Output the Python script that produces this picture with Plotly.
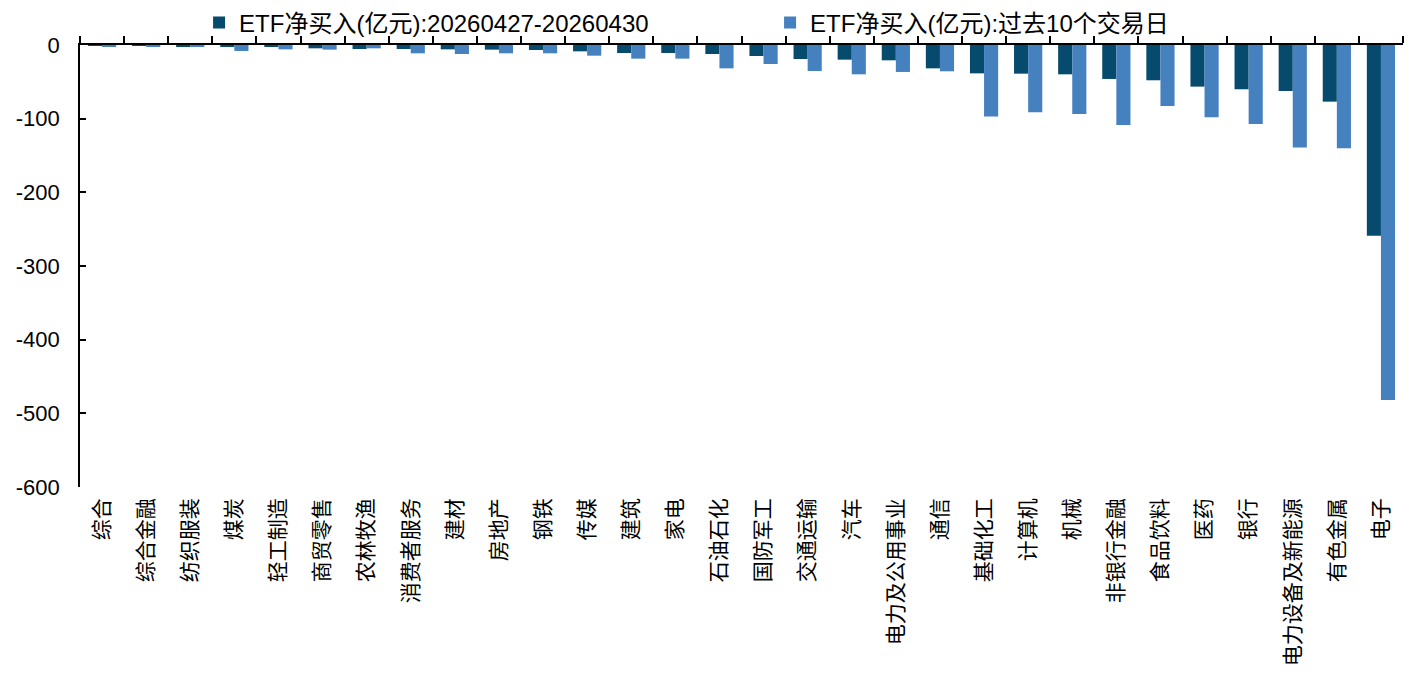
import plotly.graph_objects as go

categories = ["综合", "综合金融", "纺织服装", "煤炭", "轻工制造", "商贸零售", "农林牧渔",
              "消费者服务", "建材", "房地产", "钢铁", "传媒", "建筑", "家电", "石油石化",
              "国防军工", "交通运输", "汽车", "电力及公用事业", "通信", "基础化工", "计算机",
              "机械", "非银行金融", "食品饮料", "医药", "银行", "电力设备及新能源", "有色金属", "电子"]

week_values = [-1, -1, -1.5, -2.3, -2.3, -4.5, -5.4, -5.4, -5.9, -6.3, -6.8, -8.6, -10.9, -10.9,
               -12.2, -14.9, -19.0, -19.9, -20.8, -31.7, -38.5, -38.9, -39.8, -46.1, -47.9,
               -56.5, -60.1, -62.4, -76.9, -259]

ten_day_values = [-1.5, -2, -2.3, -8.1, -5.9, -6.3, -4.5, -11.3, -12.2, -11.3, -11.3, -14.5, -18.5,
                  -18.5, -31.7, -25.8, -35.3, -39.8, -36.6, -35.7, -97.2, -91.4, -93.6, -108.5,
                  -82.8, -98.1, -107.2, -139.3, -140.2, -482]

series_names = ["ETF净买入(亿元):20260427-20260430", "ETF净买入(亿元):过去10个交易日"]
y_ticks = [0, -100, -200, -300, -400, -500, -600]

FONT = "Liberation Sans, Arial, Noto Sans CJK SC, sans-serif"

fig = go.Figure()
fig.add_trace(go.Bar(x=categories, y=week_values, name=series_names[0],
                     marker=dict(color="#064A6E", line=dict(width=0))))
fig.add_trace(go.Bar(x=categories, y=ten_day_values, name=series_names[1],
                     marker=dict(color="#4580BF", line=dict(width=0))))
# transparent trace on a top axis that draws the category-boundary ticks along the zero line
fig.add_trace(go.Scatter(x=categories, y=[-300] * len(categories), xaxis="x2", mode="markers",
                         marker=dict(opacity=0), showlegend=False, hoverinfo="skip"))

n = len(categories)
# the page has an 8px default body margin, so the figure is sized/offset to compensate
fig.update_layout(
    width=1399, height=662,
    margin=dict(l=72, r=4, t=37, b=183, autoexpand=False),
    plot_bgcolor="white", paper_bgcolor="white",
    barmode="group", bargap=0.36, bargroupgap=0,
    font=dict(family=FONT, color="black"),
    showlegend=True,
    legend=dict(orientation="h", x=0.090, xanchor="left", y=1.0498, yanchor="middle",
                font=dict(size=24, family=FONT), itemwidth=30, entrywidth=526,
                traceorder="normal", bgcolor="rgba(0,0,0,0)"),
    xaxis=dict(type="category", showline=False, ticks="", showgrid=False,
               range=[-0.5, n - 0.5], automargin=False,
               tickangle=-90, tickfont=dict(size=21, family="Noto Sans CJK SC"),
               ticklabelstandoff=6, zeroline=False),
    xaxis2=dict(type="category", overlaying="x", side="top", anchor="y",
                categoryarray=categories, categoryorder="array",
                range=[-0.5, n - 0.5], automargin=False,
                showline=True, linecolor="black", linewidth=1.5,
                ticks="outside", ticklen=7, tickcolor="black", tickwidth=1.5,
                tickson="boundaries", showticklabels=False,
                showgrid=False, zeroline=False),
    yaxis=dict(range=[-600, 0], tickvals=y_ticks, ticktext=[str(v) for v in y_ticks],
               showline=True, linecolor="black", linewidth=1.5, automargin=False,
               ticks="inside", ticklen=6, tickcolor="black", tickwidth=1.5,
               showgrid=False, zeroline=False,
               tickfont=dict(size=22, family=FONT), ticklabelstandoff=14),
)

fig.write_html("out.html")
